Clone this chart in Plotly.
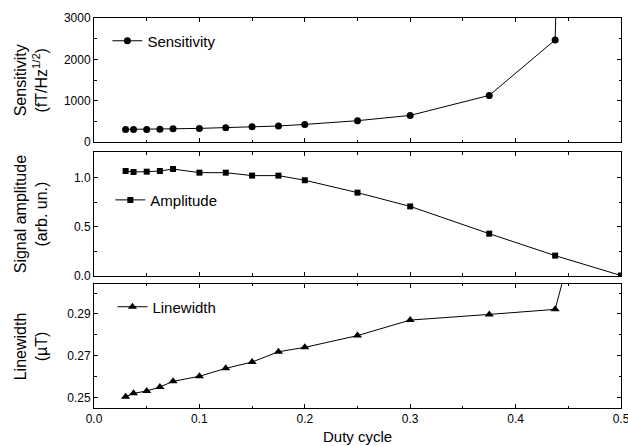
# Sensitivity, amplitude and linewidth vs duty cycle
import plotly.graph_objects as go
from plotly.subplots import make_subplots

duty = [0.03, 0.0375, 0.05, 0.0625, 0.075, 0.1, 0.125, 0.15, 0.175, 0.2, 0.25, 0.3, 0.375, 0.4375, 0.5]
sensitivity = [305, 305, 305, 310, 320, 330, 346, 370, 387, 426, 516, 644, 1128, 2470, 60000]
amplitude = [1.067, 1.057, 1.06, 1.067, 1.087, 1.05, 1.05, 1.02, 1.02, 0.973, 0.847, 0.707, 0.43, 0.207, 0.005]
linewidth = [0.2506, 0.2522, 0.2533, 0.2552, 0.2579, 0.2603, 0.2641, 0.2671, 0.2720, 0.2741, 0.2797, 0.2871, 0.2898, 0.2922, 0.41]

fig = make_subplots(rows=3, cols=1, shared_xaxes=True, vertical_spacing=0.02)

line = dict(color="black", width=1)
fig.add_trace(go.Scatter(x=duty, y=sensitivity, mode="lines+markers", name="Sensitivity",
                         line=line, marker=dict(symbol="circle", size=7, color="black"),
                         legend="legend"), row=1, col=1)
fig.add_trace(go.Scatter(x=duty, y=amplitude, mode="lines+markers", name="Amplitude",
                         line=line, marker=dict(symbol="square", size=6, color="black"),
                         legend="legend2"), row=2, col=1)
fig.add_trace(go.Scatter(x=duty, y=linewidth, mode="lines+markers", name="Linewidth",
                         line=line, marker=dict(symbol="triangle-up", size=8, color="black"),
                         legend="legend3"), row=3, col=1)

axis_style = dict(showline=True, linecolor="black", linewidth=1, mirror="allticks",
                  ticks="inside", ticklen=4, tickcolor="black", showgrid=False, zeroline=False,
                  automargin=False, tickfont=dict(size=12, color="black"))
minor_style = dict(ticks="inside", ticklen=2.5, tickcolor="black", showgrid=False)

for r in (1, 2, 3):
    fig.update_xaxes(range=[0, 0.5], dtick=0.1, tickformat=".1f",
                     minor=dict(dtick=0.05, **minor_style), row=r, col=1, **axis_style)
fig.update_xaxes(ticklabeloverflow="allow", row=3, col=1)

fig.update_yaxes(range=[0, 3000], dtick=1000, minor=dict(dtick=500, **minor_style),
                 row=1, col=1, **axis_style)
fig.update_yaxes(range=[0, 1.26], dtick=0.5, tickformat=".1f", minor=dict(dtick=0.25, **minor_style),
                 row=2, col=1, **axis_style)
fig.update_yaxes(range=[0.2452, 0.3043], tick0=0.25, dtick=0.02, tickformat=".2f",
                 minor=dict(tick0=0.25, dtick=0.01, **minor_style),
                 row=3, col=1, **axis_style)

# axis titles as annotations so the three y titles line up
titles = [("Sensitivity<br>(fT/Hz<sup>1/2</sup>)", 0.841),
          ("Signal amplitude<br>(arb. un.)", 0.4975),
          ("Linewidth<br>(µT)", 0.159)]
for text, yc in titles:
    fig.add_annotation(text=text, xref="paper", yref="paper", x=-0.119, y=yc,
                       xanchor="center", yanchor="middle", textangle=-90, showarrow=False,
                       font=dict(size=16, color="black"))
fig.add_annotation(text="Duty cycle", xref="paper", yref="paper", x=0.5, y=-0.074,
                   xanchor="center", yanchor="middle", showarrow=False,
                   font=dict(size=15, color="black"))

legend_style = dict(xanchor="left", yanchor="middle", bgcolor="rgba(0,0,0,0)", font=dict(size=15))
fig.update_layout(
    width=628, height=446,
    margin=dict(l=94, r=7, t=18, b=38),
    plot_bgcolor="white", paper_bgcolor="white",
    font=dict(family="Liberation Sans, Arial, sans-serif", color="black"),
    showlegend=True,
    yaxis=dict(domain=[0.682, 1]),
    yaxis2=dict(domain=[0.3385, 0.6564]),
    yaxis3=dict(domain=[0, 0.318]),
    legend=dict(x=0.0254, y=0.941, **legend_style),
    legend2=dict(x=0.031, y=0.533, **legend_style),
    legend3=dict(x=0.035, y=0.259, **legend_style),
)

fig.write_html("out.html", config={"displayModeBar": False},
               post_script="document.body.style.margin='0';")
